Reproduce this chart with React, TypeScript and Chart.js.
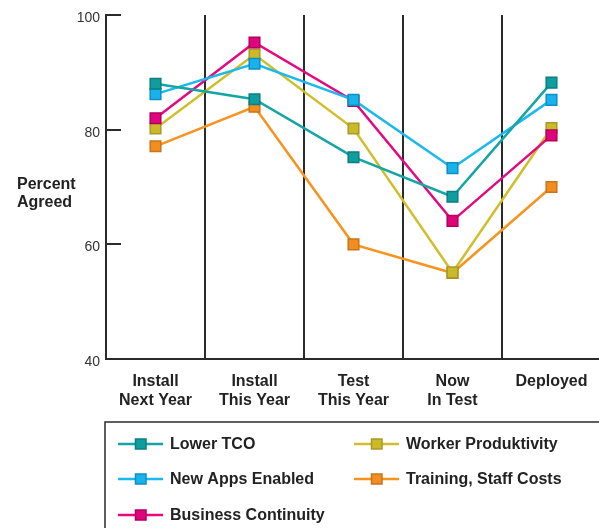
import React, { useEffect, useRef } from "react";
import { Chart, registerables } from "chart.js";

Chart.register(...registerables);

const categories: string[][] = [
  ["Install", "Next Year"],
  ["Install", "This Year"],
  ["Test", "This Year"],
  ["Now", "In Test"],
  ["Deployed"],
];

const seriesNames = [
  "Lower TCO",
  "New Apps Enabled",
  "Business Continuity",
  "Worker Produktivity",
  "Training, Staff Costs",
];

const lowerTCO = [88, 85.3, 75.2, 68.3, 88.2];
const newApps = [86.2, 91.5, 85.2, 73.3, 85.2];
const businessContinuity = [82, 95.2, 85, 64.1, 79];
const workerProductivity = [80.2, 93.1, 80.2, 55.1, 80.3];
const trainingCosts = [77.1, 84, 60, 55, 70];

const yTicks = [40, 60, 80, 100];
const yTitle = ["Percent", "Agreed"];

const lineColors = ["#14a5a5", "#1cb9ee", "#e5087f", "#cfbf2c", "#f7941f"];
const fillColors = ["#0f9d9d", "#18b3ec", "#e0047c", "#cbb928", "#f28d1f"];
const borderColors = ["#0b7e80", "#0d8fc3", "#b3005f", "#a89a28", "#c9761a"];

const FONT = "'Liberation Sans', Arial, Helvetica, sans-serif";
const DARK = "#2b2b2b";

export default function App() {
  const ref = useRef<HTMLCanvasElement | null>(null);

  useEffect(() => {
    const canvas = ref.current;
    if (!canvas) return;
    const values = [lowerTCO, newApps, businessContinuity, workerProductivity, trainingCosts];

    const extras = {
      id: "extras",
      afterDraw(chart: any) {
        const ctx = chart.ctx;
        const area = chart.chartArea;
        const y = chart.scales.y;
        ctx.save();
        // inward ticks
        ctx.strokeStyle = DARK;
        ctx.lineWidth = 2;
        yTicks.forEach((t) => {
          if (t === yTicks[0]) return;
          const py = Math.round(y.getPixelForValue(t));
          ctx.beginPath();
          ctx.moveTo(area.left, py);
          ctx.lineTo(area.left + 15, py);
          ctx.stroke();
        });
        // y title
        ctx.fillStyle = "#222";
        ctx.font = `bold 16px ${FONT}`;
        ctx.textAlign = "left";
        ctx.textBaseline = "middle";
        ctx.fillText(yTitle[0], 17, 185);
        ctx.fillText(yTitle[1], 17, 203);

        // legend box
        ctx.strokeStyle = DARK;
        ctx.lineWidth = 1.5;
        ctx.strokeRect(105, 422, 700, 300);

        const ds = chart.data.datasets;
        const colX = [118, 354];
        const rowY = [444, 479, 515];
        ds.forEach((d: any, i: number) => {
          const col = i < 3 ? 0 : 1;
          const row = i < 3 ? i : i - 3;
          const x0 = colX[col];
          const cy = rowY[row];
          ctx.strokeStyle = d.borderColor;
          ctx.lineWidth = 2.5;
          ctx.beginPath();
          ctx.moveTo(x0, cy);
          ctx.lineTo(x0 + 45, cy);
          ctx.stroke();
          ctx.fillStyle = d.pointBackgroundColor;
          ctx.strokeStyle = d.pointBorderColor;
          ctx.lineWidth = 1.5;
          ctx.fillRect(x0 + 17.5, cy - 5, 10.5, 10);
          ctx.strokeRect(x0 + 17.5, cy - 5, 10.5, 10);
          ctx.fillStyle = "#222";
          ctx.font = `bold 16px ${FONT}`;
          ctx.textAlign = "left";
          ctx.textBaseline = "middle";
          ctx.fillText(d.label, x0 + 52, cy + 1);
        });
        ctx.restore();
      },
    };

    const chart = new Chart(canvas, {
      type: "line",
      data: {
        labels: categories,
        datasets: seriesNames.map((name, i) => ({
          label: name,
          data: values[i],
          borderColor: lineColors[i],
          backgroundColor: fillColors[i],
          borderWidth: 2.5,
          pointStyle: "rect",
          pointRadius: 7.5,
          pointHoverRadius: 7.5,
          pointBackgroundColor: fillColors[i],
          pointBorderColor: borderColors[i],
          pointBorderWidth: 1.5,
          tension: 0,
          fill: false,
        })),
      },
      options: {
        responsive: false,
        animation: false,
        devicePixelRatio: 1,
        layout: { padding: { left: 0, right: 8, top: 15, bottom: 0 } },
        plugins: {
          legend: { display: false },
          tooltip: { enabled: false },
        },
        scales: {
          x: {
            type: "category",
            offset: true,
            grid: {
              display: true,
              offset: true,
              color: DARK,
              lineWidth: 2,
              drawTicks: false,
              drawOnChartArea: true,
            },
            border: { display: true, color: DARK, width: 2 },
            ticks: {
              color: "#222",
              font: { family: FONT, size: 16, weight: "bold", lineHeight: 1.18 },
              padding: 13,
              maxRotation: 0,
              autoSkip: false,
            },
            afterFit: (s: any) => {
              s.height = 169;
            },
          },
          y: {
            min: 40,
            max: 100,
            grid: { display: false, drawTicks: false },
            border: { display: true, color: DARK, width: 2 },
            afterBuildTicks: (s: any) => {
              s.ticks = yTicks.map((v) => ({ value: v }));
            },
            ticks: {
              color: "#333",
              font: { family: FONT, size: 14 },
              padding: 6,
              labelOffset: 3,
            },
            afterFit: (s: any) => {
              s.width = 106;
            },
          },
        },
      },
      plugins: [extras],
    } as any);

    return () => chart.destroy();
  }, []);

  return (
    <div
      style={{
        position: "fixed",
        left: 0,
        top: 0,
        width: 599,
        height: 528,
        overflow: "hidden",
        background: "#fff",
      }}
    >
      <canvas ref={ref} width={610} height={528} style={{ display: "block", width: 610, height: 528 }} />
    </div>
  );
}
